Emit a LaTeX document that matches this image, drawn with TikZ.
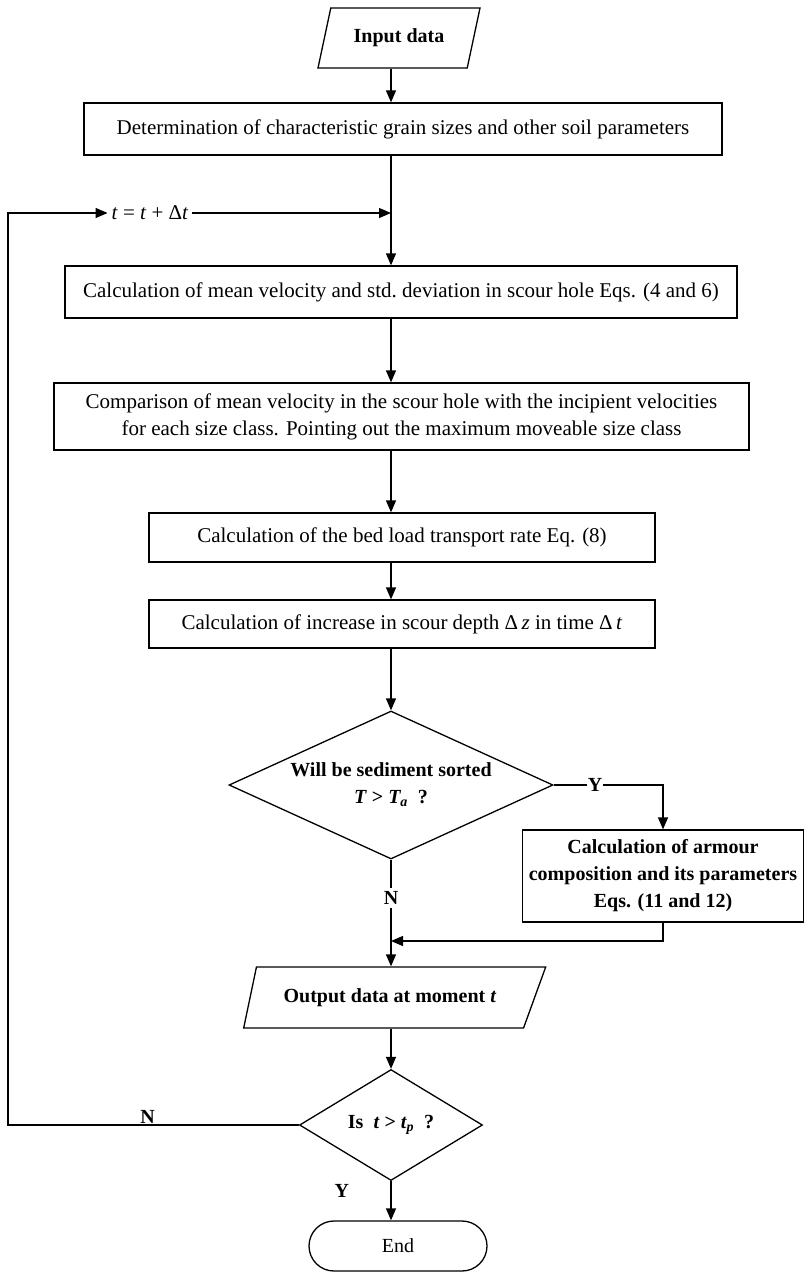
\documentclass[tikz,border=0pt]{standalone}
\usepackage{fontspec}
\setmainfont{Liberation Serif}
\usetikzlibrary{arrows.meta,positioning,shapes.geometric}

\newcommand\chartfont{\fontsize{20}{27}\selectfont}
\newcommand\boxfont{\fontsize{21}{27}\selectfont}
\tikzset{
  box/.style={draw,rectangle,minimum height=52pt,inner sep=4pt,font=\boxfont},
  io/.style={draw,trapezium,trapezium left angle=60,trapezium right angle=120,
    trapezium stretches body,inner sep=2pt,font=\chartfont\bfseries},
  decide/.style={draw,diamond,inner sep=0pt,align=center,font=\chartfont\bfseries},
  yn/.style={font=\chartfont\bfseries}
}

\begin{document}
\begin{tikzpicture}[x=1pt,y=-1pt,line width=1.3pt,>={Triangle[length=12pt,width=10pt]}]
  \useasboundingbox (0,0) rectangle (805,1273);
  \node[io,minimum width=162pt,minimum height=60pt] (in) at (399,38) {Input data};
  \node[box,minimum width=638pt] (det) at (403,129)
    {Determination of characteristic grain sizes and other soil parameters};
  \node[box,minimum width=672pt] (mv) at (401,292)
    {Calculation of mean velocity and std.\ deviation in scour hole Eqs. (4 and 6)};
  \node[box,minimum width=695pt,minimum height=67pt,align=center] (cmp) at (401.5,416.5)
    {Comparison of mean velocity in the scour hole with the incipient velocities\\
     for each size class. Pointing out the maximum moveable size class};
  \node[box,minimum width=506pt,minimum height=49pt] (bed) at (402,537.5)
    {Calculation of the bed load transport rate Eq. (8)};
  \node[box,minimum width=506pt,minimum height=48pt] (inc) at (402,624)
    {Calculation of increase in scour depth Δ\,\textit{z} in time Δ\,\textit{t}};
  \node[decide,aspect=2.2,minimum width=324pt,minimum height=148pt] (srt) at (391,785)
    {Will be sediment sorted\\\textit{T} > \textit{T\textsubscript{a}}\ \ ?};
  \node[box,minimum width=281pt,minimum height=92pt,align=center,font=\chartfont\bfseries] (arm) at (663,876)
    {Calculation of armour\\composition and its parameters\\Eqs. (11 and 12)};
  \node[io,trapezium right angle=135,minimum width=302pt,minimum height=61pt] (out) at (390,997.5)
    {Output data at moment \textit{t}};
  \node[decide,aspect=1.65,minimum width=183pt,minimum height=111pt] (tp) at (391,1125)
    {Is \ \textit{t} > \textit{t\textsubscript{p}}\ \ ?};
  \node[draw,rectangle,rounded corners=25pt,minimum width=178pt,minimum height=50pt,font=\chartfont] (end) at (398,1246) {End};
  \node[font=\boxfont] (upd) at (150,213) {\textit{t} = \textit{t} + Δ\textit{t}};
  \coordinate (lpt) at (8,213);
  \coordinate (mrg) at (391,941);
  \draw[->] (in.south -| srt) -- (det.north -| srt);
  \draw[->] (det.south -| srt) -- (mv.north -| srt);
  \draw[->] (mv.south -| srt) -- (cmp.north -| srt);
  \draw[->] (cmp.south -| srt) -- (bed.north -| srt);
  \draw[->] (bed.south -| srt) -- (inc.north -| srt);
  \draw[->] (inc.south -| srt) -- (srt.north);
  \draw[->] (srt.east) -- node[yn,fill=white,inner sep=1pt,pos=0.38] {Y} (srt.east -| arm) -- (arm.north);
  \draw[->] (srt.south) -- node[yn,fill=white,pos=0.36] {N} (out.north -| srt);
  \draw[->] (arm.south) |- (mrg);
  \draw[->] (out.south -| srt) -- (tp.north);
  \draw[->] (tp.south) -- node[yn,left=38pt,pos=0.25] {Y} (end.north -| tp);
  \draw[->] (tp.west) -- node[yn,above,inner sep=1pt,pos=0.52] {N} (tp.west -| lpt) -- (lpt) -- (upd.west);
  \draw[->] (upd.east) -- (upd.east -| srt);
\end{tikzpicture}
\end{document}
